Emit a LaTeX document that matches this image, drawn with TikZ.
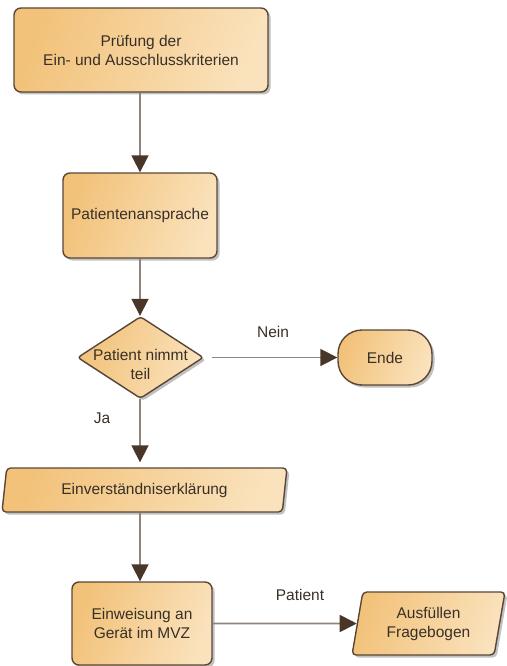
\documentclass[tikz,border=0pt]{standalone}
\usepackage{fontspec}
\setmainfont{Liberation Sans}
\usetikzlibrary{shapes.geometric,arrows.meta,shadows}
\definecolor{ocA}{HTML}{F2C27A}
\definecolor{ocB}{HTML}{FAE2BC}
\definecolor{edgec}{HTML}{5A4636}
\definecolor{linec}{HTML}{8E847C}
\definecolor{tipc}{HTML}{4A3628}
\definecolor{txtc}{HTML}{383028}
\tikzset{
  base/.style={draw=edgec, line width=1.4pt, left color=ocA, right color=ocB, shading angle=70,
    text=txtc, align=center, inner sep=2pt,
    drop shadow={shadow xshift=2.5pt, shadow yshift=-2.5pt, opacity=0.35, fill=black!70}},
  procbox/.style={base, rectangle, rounded corners=7pt},
  decbox/.style={base, diamond, rounded corners=3pt, inner sep=0pt},
  endbox/.style={base, rectangle, rounded corners=24pt},
  iobox/.style={base, trapezium, trapezium left angle=72, trapezium right angle=108,
    trapezium stretches body=true, rounded corners=4pt, inner sep=0pt},
  flow/.style={draw=linec, line width=1.8pt, -{Triangle[length=17pt,width=17pt,fill=tipc,color=tipc]}},
  lbl/.style={text=txtc},
}
\begin{document}
\begin{tikzpicture}[x=1pt,y=-1pt, font=\fontsize{15.5}{19}\selectfont]
\useasboundingbox (0,0) rectangle (506,666);
\node[procbox, minimum width=254pt, minimum height=84pt] (b1) at (141,50) {Prüfung der\\Ein- und Ausschlusskriterien};
\node[procbox, minimum width=154pt, minimum height=85pt] (b2) at (140,215.5) {Patientenansprache};
\node[decbox, minimum width=126pt, minimum height=82pt,
  label={[lbl, align=center, inner sep=0pt, yshift=-7pt]center:Patient nimmt\\teil}] (d) at (140.5,357.5) {};
\node[endbox, minimum width=94pt, minimum height=55pt] (ende) at (385,357.5) {Ende};
\node[iobox, minimum width=285pt, minimum height=44pt] (e) at (144.5,490) {Einverständniserklärung};
\node[procbox, minimum width=140pt, minimum height=83pt] (g) at (142,623.5) {Einweisung an\\Gerät im MVZ};
\node[iobox, minimum width=153pt, minimum height=63pt] (f) at (428.5,623.5) {Ausfüllen\\Fragebogen};
\draw[flow] (b1.south -| 140,0) -- (b2.north -| 140,0);
\draw[flow] (b2.south -| 140,0) -- (d.north -| 140,0);
\draw[flow, shorten >=5pt] (d.south -| 140,0) -- (e.north -| 140,0);
\draw[flow] (e.south -| 140,0) -- (g.north -| 140,0);
\draw[flow, shorten <=8pt] (d.east) -- (ende.west);
\draw[flow] (g.east) -- (f.west);
\node[lbl] (nein) at (273,332) {Nein};
\node[lbl] (ja) at (102,418) {Ja};
\node[lbl] (pat) at (300,595) {Patient};
\end{tikzpicture}
\end{document}
